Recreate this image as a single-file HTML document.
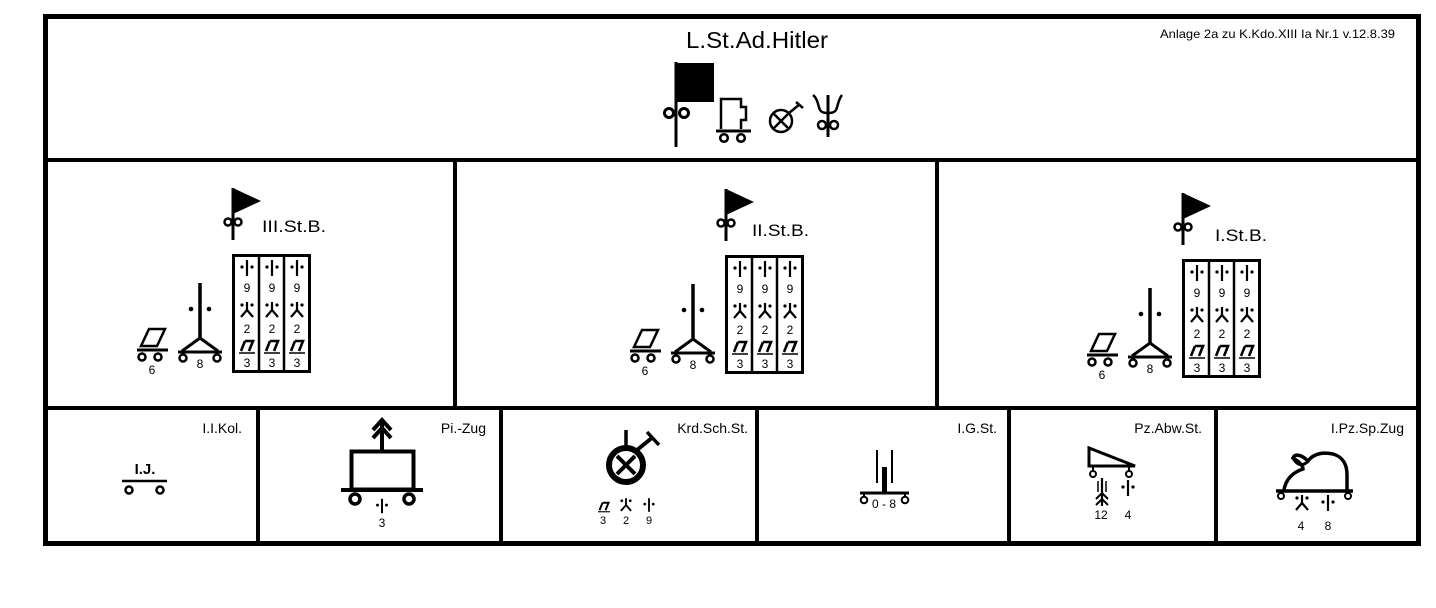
<!DOCTYPE html>
<html><head><meta charset="utf-8"><style>
html,body{margin:0;padding:0;background:#fff;}
svg{display:block;}
text{font-family:"Liberation Sans",Arial,sans-serif;fill:#000;}
</style></head><body>
<svg width="1436" height="608" viewBox="0 0 1436 608" xmlns="http://www.w3.org/2000/svg">
<defs>
<g id="pip"><line x1="0" y1="-8" x2="0" y2="8" stroke="#000" stroke-width="2.2"/><circle cx="-5" cy="-1" r="1.6"/><circle cx="5" cy="-1" r="1.6"/></g>
<g id="man"><line x1="0" y1="-8" x2="0" y2="0" stroke="#000" stroke-width="2.2"/><path d="M-6 7 L0 0 L6 7" fill="none" stroke="#000" stroke-width="2.2"/><circle cx="-5" cy="-5" r="1.6"/><circle cx="5" cy="-5" r="1.6"/></g>
<g id="mg"><path d="M-2 -7 L6 -7 L2 3 M-2 -7 L-6 3" fill="none" stroke="#000" stroke-width="2.6"/><line x1="-8" y1="5" x2="8" y2="5" stroke="#000" stroke-width="1.5"/></g>
<g id="stb" fill="#000">
  <line x1="233" y1="188" x2="233" y2="240" stroke="#000" stroke-width="3"/>
  <path d="M233 188 L261 201 L233 214 Z"/>
  <circle cx="228" cy="222" r="3.5" fill="none" stroke="#000" stroke-width="2.5"/>
  <circle cx="238" cy="222" r="3.5" fill="none" stroke="#000" stroke-width="2.5"/>
  <path d="M149 329 L165 329 L157 346 L141 346 Z" fill="none" stroke="#000" stroke-width="2.5"/>
  <line x1="137" y1="350" x2="168" y2="350" stroke="#000" stroke-width="3"/>
  <circle cx="142" cy="357" r="3.5" fill="none" stroke="#000" stroke-width="2.5"/>
  <circle cx="158" cy="357" r="3.5" fill="none" stroke="#000" stroke-width="2.5"/>
  <text x="152" y="374" font-size="12" text-anchor="middle">6</text>
  <line x1="200" y1="283" x2="200" y2="340" stroke="#000" stroke-width="3.5"/>
  <circle cx="191" cy="309" r="2.3"/><circle cx="209" cy="309" r="2.3"/>
  <path d="M182 351 L200 338 L218 351" fill="none" stroke="#000" stroke-width="3"/>
  <line x1="178" y1="352" x2="222" y2="352" stroke="#000" stroke-width="3"/>
  <circle cx="183" cy="358" r="3.5" fill="none" stroke="#000" stroke-width="2.5"/>
  <circle cx="217" cy="358" r="3.5" fill="none" stroke="#000" stroke-width="2.5"/>
  <text x="200" y="368" font-size="12" text-anchor="middle">8</text>
  <rect x="233.5" y="255.5" width="76" height="116" fill="none" stroke="#000" stroke-width="3"/>
  <line x1="259" y1="255" x2="259" y2="372" stroke="#000" stroke-width="2.5"/>
  <line x1="284" y1="255" x2="284" y2="372" stroke="#000" stroke-width="2.5"/>
  <g transform="translate(247,268)"><use href="#pip"/></g>
  <g transform="translate(272,268)"><use href="#pip"/></g>
  <g transform="translate(297,268)"><use href="#pip"/></g>
  <text x="247" y="292" font-size="12" text-anchor="middle">9</text>
  <text x="272" y="292" font-size="12" text-anchor="middle">9</text>
  <text x="297" y="292" font-size="12" text-anchor="middle">9</text>
  <g transform="translate(247,310)"><use href="#man"/></g>
  <g transform="translate(272,310)"><use href="#man"/></g>
  <g transform="translate(297,310)"><use href="#man"/></g>
  <text x="247" y="333" font-size="12" text-anchor="middle">2</text>
  <text x="272" y="333" font-size="12" text-anchor="middle">2</text>
  <text x="297" y="333" font-size="12" text-anchor="middle">2</text>
  <g transform="translate(247,348)"><use href="#mg"/></g>
  <g transform="translate(272,348)"><use href="#mg"/></g>
  <g transform="translate(297,348)"><use href="#mg"/></g>
  <text x="247" y="367" font-size="12" text-anchor="middle">3</text>
  <text x="272" y="367" font-size="12" text-anchor="middle">3</text>
  <text x="297" y="367" font-size="12" text-anchor="middle">3</text>
</g>
</defs>

<rect x="45.5" y="16.5" width="1373" height="527" fill="none" stroke="#000" stroke-width="5"/>
<line x1="45" y1="160" x2="1419" y2="160" stroke="#000" stroke-width="4"/>
<line x1="45" y1="408" x2="1419" y2="408" stroke="#000" stroke-width="4"/>
<line x1="455" y1="160" x2="455" y2="408" stroke="#000" stroke-width="4"/>
<line x1="937" y1="160" x2="937" y2="408" stroke="#000" stroke-width="4"/>
<line x1="258" y1="408" x2="258" y2="543" stroke="#000" stroke-width="4"/>
<line x1="501" y1="408" x2="501" y2="543" stroke="#000" stroke-width="4"/>
<line x1="757" y1="408" x2="757" y2="543" stroke="#000" stroke-width="4"/>
<line x1="1009" y1="408" x2="1009" y2="543" stroke="#000" stroke-width="4"/>
<line x1="1216" y1="408" x2="1216" y2="543" stroke="#000" stroke-width="4"/>

<text x="757" y="48" font-size="23" text-anchor="middle" textLength="142" lengthAdjust="spacingAndGlyphs">L.St.Ad.Hitler</text>
<text x="1395" y="38" font-size="12" text-anchor="end" textLength="235" lengthAdjust="spacingAndGlyphs">Anlage 2a zu K.Kdo.XIII Ia Nr.1 v.12.8.39</text>
<line x1="676" y1="62" x2="676" y2="147" stroke="#000" stroke-width="3"/>
<rect x="676" y="63" width="38" height="39"/>
<circle cx="669" cy="113" r="4.5" fill="none" stroke="#000" stroke-width="3"/>
<circle cx="684" cy="113" r="4.5" fill="none" stroke="#000" stroke-width="3"/>
<path d="M721 129 L721 99 L741 99 L741 107 L746 107 L746 120 L741 120 L741 129" fill="none" stroke="#000" stroke-width="2.5"/>
<line x1="716" y1="131" x2="751" y2="131" stroke="#000" stroke-width="3"/>
<circle cx="724" cy="138" r="3.8" fill="none" stroke="#000" stroke-width="2.5"/>
<circle cx="741" cy="138" r="3.8" fill="none" stroke="#000" stroke-width="2.5"/>
<circle cx="781" cy="121" r="11" fill="none" stroke="#000" stroke-width="2.5"/>
<path d="M774 114 L788 128 M788 114 L774 128" stroke="#000" stroke-width="2.5"/>
<path d="M789 113 L800 104 M796 102 L803 108" stroke="#000" stroke-width="2.5"/>
<path d="M813 95 C818 99 818 106 820 110 C822 114 834 114 836 110 C838 106 838 100 842 95" fill="none" stroke="#000" stroke-width="2.5"/>
<line x1="828" y1="95" x2="828" y2="137" stroke="#000" stroke-width="3"/>
<circle cx="822" cy="125" r="4" fill="none" stroke="#000" stroke-width="2.5"/>
<circle cx="834" cy="125" r="4" fill="none" stroke="#000" stroke-width="2.5"/>

<use href="#stb"/>
<text x="262" y="232" font-size="17" textLength="64" lengthAdjust="spacingAndGlyphs">III.St.B.</text>
<g transform="translate(493,1)"><use href="#stb"/></g>
<text x="752" y="236" font-size="17" textLength="57" lengthAdjust="spacingAndGlyphs">II.St.B.</text>
<g transform="translate(950,5)"><use href="#stb"/></g>
<text x="1215" y="241" font-size="17" textLength="52" lengthAdjust="spacingAndGlyphs">I.St.B.</text>

<text x="242" y="433" font-size="14" text-anchor="end">I.I.Kol.</text>
<text x="145" y="474" font-size="15" font-weight="bold" text-anchor="middle" font-family="Liberation Serif">I.J.</text>
<line x1="122" y1="481" x2="167" y2="481" stroke="#000" stroke-width="2.5"/>
<circle cx="129" cy="490" r="3.5" fill="none" stroke="#000" stroke-width="2.5"/>
<circle cx="160" cy="490" r="3.5" fill="none" stroke="#000" stroke-width="2.5"/>

<text x="486" y="433" font-size="14" text-anchor="end">Pi.-Zug</text>
<rect x="351.5" y="451.5" width="62" height="38" fill="none" stroke="#000" stroke-width="4"/>
<line x1="382" y1="451" x2="382" y2="420" stroke="#000" stroke-width="4"/>
<path d="M373 430 L382 420 L391 430 M373 438 L382 428 L391 438" fill="none" stroke="#000" stroke-width="4"/>
<line x1="341" y1="490" x2="423" y2="490" stroke="#000" stroke-width="4"/>
<circle cx="355" cy="499" r="5" fill="none" stroke="#000" stroke-width="3.5"/>
<circle cx="409" cy="499" r="5" fill="none" stroke="#000" stroke-width="3.5"/>
<g transform="translate(382,506) scale(0.9)"><use href="#pip"/></g>
<text x="382" y="527" font-size="12" text-anchor="middle">3</text>

<text x="748" y="433" font-size="14" text-anchor="end">Krd.Sch.St.</text>
<circle cx="626" cy="465" r="17" fill="none" stroke="#000" stroke-width="6"/>
<path d="M617 456 L635 474 M635 456 L617 474" stroke="#000" stroke-width="4"/>
<line x1="626" y1="430" x2="626" y2="448" stroke="#000" stroke-width="3.5"/>
<line x1="637" y1="450" x2="653" y2="437" stroke="#000" stroke-width="4"/>
<line x1="647" y1="432" x2="659" y2="445" stroke="#000" stroke-width="3.5"/>
<g transform="translate(604,508) scale(0.75)"><use href="#mg"/></g>
<g transform="translate(626,505) scale(0.85)"><use href="#man"/></g>
<g transform="translate(649,505) scale(0.85)"><use href="#pip"/></g>
<text x="603" y="524" font-size="11" text-anchor="middle">3</text>
<text x="626" y="524" font-size="11" text-anchor="middle">2</text>
<text x="649" y="524" font-size="11" text-anchor="middle">9</text>

<text x="997" y="433" font-size="14" text-anchor="end">I.G.St.</text>
<rect x="882" y="467" width="5" height="26"/>
<line x1="877" y1="450" x2="877" y2="483" stroke="#000" stroke-width="2"/>
<line x1="892" y1="450" x2="892" y2="483" stroke="#000" stroke-width="2"/>
<line x1="860" y1="493" x2="909" y2="493" stroke="#000" stroke-width="3"/>
<line x1="864" y1="493" x2="864" y2="497" stroke="#000" stroke-width="2"/>
<line x1="905" y1="493" x2="905" y2="497" stroke="#000" stroke-width="2"/>
<circle cx="864" cy="500" r="3.3" fill="none" stroke="#000" stroke-width="2"/>
<circle cx="905" cy="500" r="3.3" fill="none" stroke="#000" stroke-width="2"/>
<text x="884" y="508" font-size="12" text-anchor="middle">0 - 8</text>

<text x="1202" y="433" font-size="14" text-anchor="end">Pz.Abw.St.</text>
<path d="M1089 448 L1089 466 L1135 466 Z" fill="none" stroke="#000" stroke-width="3"/>
<line x1="1093" y1="466" x2="1093" y2="471" stroke="#000" stroke-width="2"/>
<line x1="1129" y1="466" x2="1129" y2="471" stroke="#000" stroke-width="2"/>
<circle cx="1093" cy="474" r="3" fill="none" stroke="#000" stroke-width="2"/>
<circle cx="1129" cy="474" r="3" fill="none" stroke="#000" stroke-width="2"/>
<line x1="1102" y1="478" x2="1102" y2="506" stroke="#000" stroke-width="2.2"/>
<line x1="1098" y1="481" x2="1098" y2="492" stroke="#000" stroke-width="1.5"/>
<line x1="1106" y1="481" x2="1106" y2="492" stroke="#000" stroke-width="1.5"/>
<path d="M1096 499 L1102 493 L1108 499 M1096 505 L1102 499 L1108 505" fill="none" stroke="#000" stroke-width="2"/>
<g transform="translate(1128,488)"><use href="#pip"/></g>
<text x="1101" y="519" font-size="12" text-anchor="middle">12</text>
<text x="1128" y="519" font-size="12" text-anchor="middle">4</text>

<text x="1404" y="433" font-size="14" text-anchor="end">I.Pz.Sp.Zug</text>
<path d="M1284 490 C1286 478 1294 472 1303 469 C1303 464 1296 460 1293 458 C1295 453 1302 455 1308 461 C1314 453 1324 452 1333 454 C1343 457 1347 464 1347 475 L1347 490" fill="none" stroke="#000" stroke-width="3.5"/>
<path d="M1293 458 C1296 464 1302 468 1308 461" fill="none" stroke="#000" stroke-width="3"/>
<line x1="1276" y1="491" x2="1353" y2="491" stroke="#000" stroke-width="3.5"/>
<circle cx="1281" cy="496" r="3" fill="none" stroke="#000" stroke-width="2"/>
<circle cx="1348" cy="496" r="3" fill="none" stroke="#000" stroke-width="2"/>
<g transform="translate(1302,503)"><use href="#man"/></g>
<g transform="translate(1328,503)"><use href="#pip"/></g>
<text x="1301" y="530" font-size="12" text-anchor="middle">4</text>
<text x="1328" y="530" font-size="12" text-anchor="middle">8</text>
</svg>
</body></html>
